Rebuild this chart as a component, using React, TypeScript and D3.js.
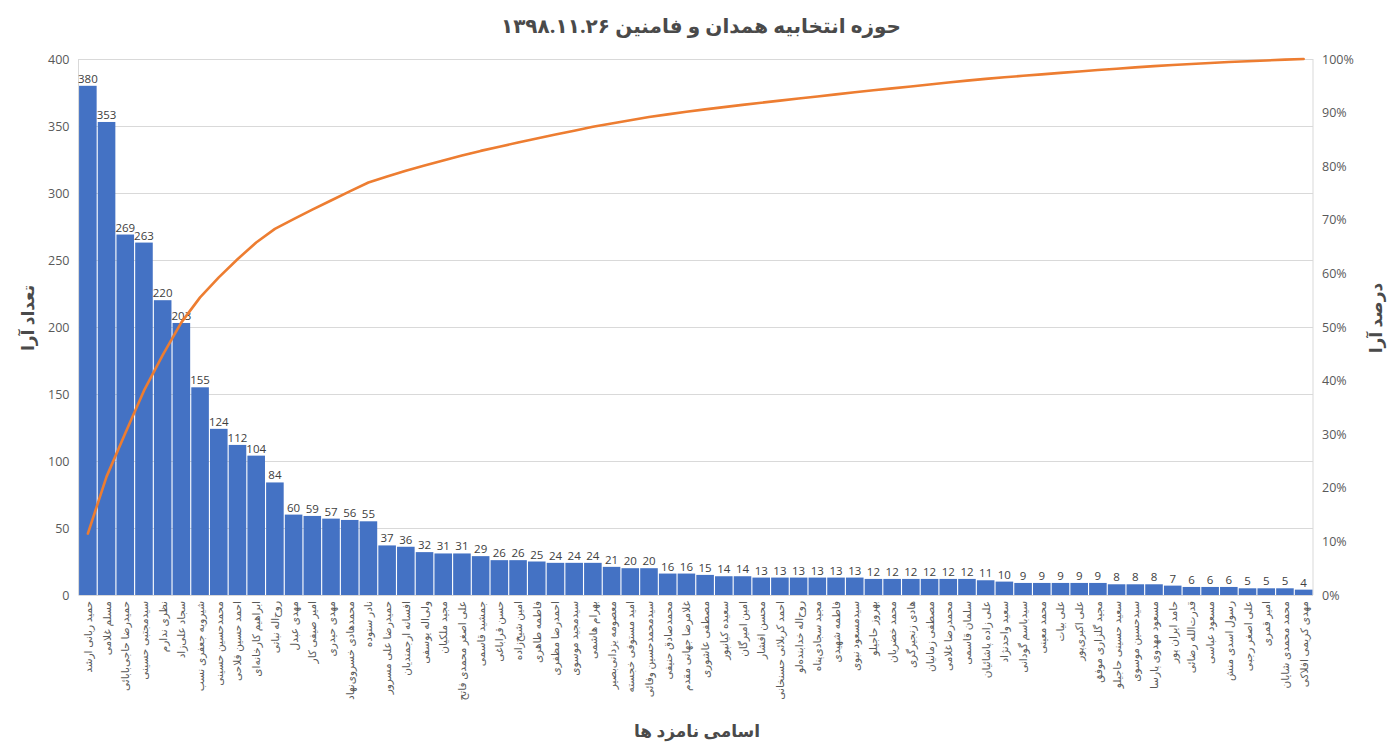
import { useEffect, useRef } from "react";
import * as d3 from "d3";

const candidates = [
  "حمید ربانی ارشد", "مسلم غلامی", "حمیدرضا حاجی‌بابائی", "سیدمجتبی حسینی", "نظری ندارم",
  "سجاد علی‌زاد", "شیرویه جعفری نسب", "محمدحسین حسینی", "احمد حسین فلاحی", "ابراهیم کارخانه‌ای",
  "روح‌اله نباتی", "مهدی عبدل", "امیر صیفی کار", "مهدی حیدری", "محمدهادی خسروی‌نهاد",
  "نادر ستوده", "حمیدرضا علی مسرور", "افسانه ارجمندیان", "ولی‌اله یوسفی", "مجید ملکیان",
  "علی اصغر محمدی فاتح", "جمشید قاسمی", "حسن قراباغی", "امین شیخ‌زاده", "فاطمه طاهری",
  "احمدرضا مظفری", "سیدمجید موسوی", "بهرام هاشمی", "معصومه یزدانی‌بصیر", "امید مستوفی خجسته",
  "سیدمحمدحسین وفائی", "محمدصادق حنیفی", "غلامرضا جهانی مقدم", "مصطفی عاشوری", "سعیده کیانپور",
  "امین امیرگان", "محسن افشار", "احمد کربلائی حسنخانی", "روح‌اله خدابنده‌لو", "مجید سجادی‌پناه",
  "فاطمه شهیدی", "سیدمسعود نبوی", "بهروز حاجیلو", "محمد خضریان", "هادی زنجیرگری",
  "مصطفی زمانیان", "محمدرضا غلامی", "سلمان قاسمی", "علی زاده پاشائیان", "سعید واحدنژاد",
  "سیدباسم گودانی", "محمد معینی", "علی بیات", "علی اکبری‌پور", "مجید گلزاری موفق",
  "سعید حسینی حاجیلو", "سیدحسین موسوی", "مسعود مهدوی پارسا", "حامد ایران پور", "قدرت‌الله رضائی",
  "مسعود عباسی", "رسول اسدی منش", "علی اصغر رجبی", "امیر قمری", "محمد محمدی شایان",
  "مهدی کریمی افلاکی",
];

const votes = [
  380, 353, 269, 263, 220, 203, 155, 124, 112, 104,
  84, 60, 59, 57, 56, 55, 37, 36, 32, 31,
  31, 29, 26, 26, 25, 24, 24, 24, 21, 20,
  20, 16, 16, 15, 14, 14, 13, 13, 13, 13,
  13, 13, 12, 12, 12, 12, 12, 12, 11, 10,
  9, 9, 9, 9, 9, 8, 8, 8, 7, 6,
  6, 6, 5, 5, 5, 4,
];

const leftTicks = [0, 50, 100, 150, 200, 250, 300, 350, 400];
const rightTicks = [0, 0.1, 0.2, 0.3, 0.4, 0.5, 0.6, 0.7, 0.8, 0.9, 1];

const title = "حوزه انتخابیه همدان و فامنین ۱۳۹۸.۱۱.۲۶";
const leftTitle = "تعداد آرا";
const rightTitle = "درصد آرا";
const bottomTitle = "اسامی نامزد ها";

const FONT = "'Segoe UI', 'Open Sans', 'DejaVu Sans', sans-serif";

export default function App() {
  const ref = useRef<SVGSVGElement | null>(null);

  useEffect(() => {
    if (!ref.current) return;
    const width = 1397;
    const height = 755;
    const margin = { top: 59, right: 84, bottom: 160, left: 78.5 };

    const svg = d3.select(ref.current);
    svg.selectAll("*").remove();
    svg.attr("viewBox", `0 0 ${width} ${height}`);

    const total = d3.sum(votes);
    const cum = d3.cumsum(votes).map((v) => v / total);

    const x = d3
      .scaleBand<string>()
      .domain(candidates)
      .range([margin.left, width - margin.right])
      .paddingInner(0.06)
      .paddingOuter(0.03);

    const y = d3.scaleLinear().domain([0, 400]).range([height - margin.bottom, margin.top]);
    const y2 = d3.scaleLinear().domain([0, 1]).range([height - margin.bottom, margin.top]);

    // gridlines
    svg
      .append("g")
      .selectAll("line")
      .data(leftTicks)
      .join("line")
      .attr("x1", margin.left)
      .attr("x2", width - margin.right)
      .attr("y1", (d) => y(d) + 0.5)
      .attr("y2", (d) => y(d) + 0.5)
      .attr("stroke", "#d9d9d9")
      .attr("stroke-width", 1);

    // plot side borders
    [margin.left, width - margin.right].forEach((px) => {
      svg
        .append("line")
        .attr("x1", px)
        .attr("x2", px)
        .attr("y1", margin.top)
        .attr("y2", height - margin.bottom)
        .attr("stroke", "#d9d9d9");
    });

    // left axis labels
    svg
      .append("g")
      .selectAll("text")
      .data(leftTicks)
      .join("text")
      .attr("x", margin.left - 9)
      .attr("y", (d) => y(d) + 4.5)
      .attr("text-anchor", "end")
      .attr("font-size", 12.5)
      .attr("fill", "#595959")
      .attr("font-family", FONT)
      .text((d) => d);

    // right axis labels
    svg
      .append("g")
      .selectAll("text")
      .data(rightTicks)
      .join("text")
      .attr("x", width - margin.right + 9)
      .attr("y", (d) => y2(d) + 4.5)
      .attr("text-anchor", "start")
      .attr("font-size", 12.5)
      .attr("fill", "#595959")
      .attr("font-family", FONT)
      .text((d) => d3.format(".0%")(d));

    // bars
    svg
      .append("g")
      .selectAll("rect")
      .data(votes)
      .join("rect")
      .attr("x", (_, i) => x(candidates[i]) ?? 0)
      .attr("width", x.bandwidth())
      .attr("y", (d) => y(d))
      .attr("height", (d) => y(0) - y(d))
      .attr("fill", "#4472c4");

    // value labels
    svg
      .append("g")
      .selectAll("text")
      .data(votes)
      .join("text")
      .attr("x", (_, i) => (x(candidates[i]) ?? 0) + x.bandwidth() / 2)
      .attr("y", (d) => y(d) - 3)
      .attr("text-anchor", "middle")
      .attr("font-size", 11.5)
      .attr("fill", "#404040")
      .attr("font-family", FONT)
      .text((d) => d);

    // cumulative line
    const line = d3
      .line<number>()
      .x((_, i) => (x(candidates[i]) ?? 0) + x.bandwidth() / 2)
      .y((d) => y2(d));

    svg
      .append("path")
      .datum(cum)
      .attr("fill", "none")
      .attr("stroke", "#ed7d31")
      .attr("stroke-width", 2.6)
      .attr("stroke-linejoin", "round")
      .attr("stroke-linecap", "round")
      .attr("d", line);

    // category labels
    svg
      .append("g")
      .selectAll("text")
      .data(candidates)
      .join("text")
      .attr("transform", (d) => `translate(${(x(d) ?? 0) + x.bandwidth() / 2 + 4},${height - margin.bottom + 6}) rotate(-90)`)
      .attr("text-anchor", "end")
      .attr("font-size", 10.5)
      .attr("fill", "#595959")
      .attr("font-family", FONT)
      .text((d) => d);

    // titles
    svg
      .append("text")
      .attr("x", 701)
      .attr("y", 33)
      .attr("text-anchor", "middle")
      .attr("font-size", 20)
      .attr("font-weight", "bold")
      .attr("fill", "#4a4a4a")
      .attr("font-family", FONT)
      .text(title);

    svg
      .append("text")
      .attr("transform", `translate(34,318) rotate(-90)`)
      .attr("text-anchor", "middle")
      .attr("font-size", 17)
      .attr("font-weight", "bold")
      .attr("fill", "#4a4a4a")
      .attr("font-family", FONT)
      .text(leftTitle);

    svg
      .append("text")
      .attr("transform", `translate(1382,318) rotate(-90)`)
      .attr("text-anchor", "middle")
      .attr("font-size", 17)
      .attr("font-weight", "bold")
      .attr("fill", "#4a4a4a")
      .attr("font-family", FONT)
      .text(rightTitle);

    svg
      .append("text")
      .attr("x", 697)
      .attr("y", 737)
      .attr("text-anchor", "middle")
      .attr("font-size", 17)
      .attr("font-weight", "bold")
      .attr("fill", "#4a4a4a")
      .attr("font-family", FONT)
      .text(bottomTitle);
  }, []);

  return (
    <svg
      ref={ref}
      width={1397}
      height={755}
      role="img"
      aria-label="Votes per candidate, Hamedan and Famenin"
      style={{ position: "absolute", left: 0, top: 0, background: "#fff" }}
    />
  );
}
